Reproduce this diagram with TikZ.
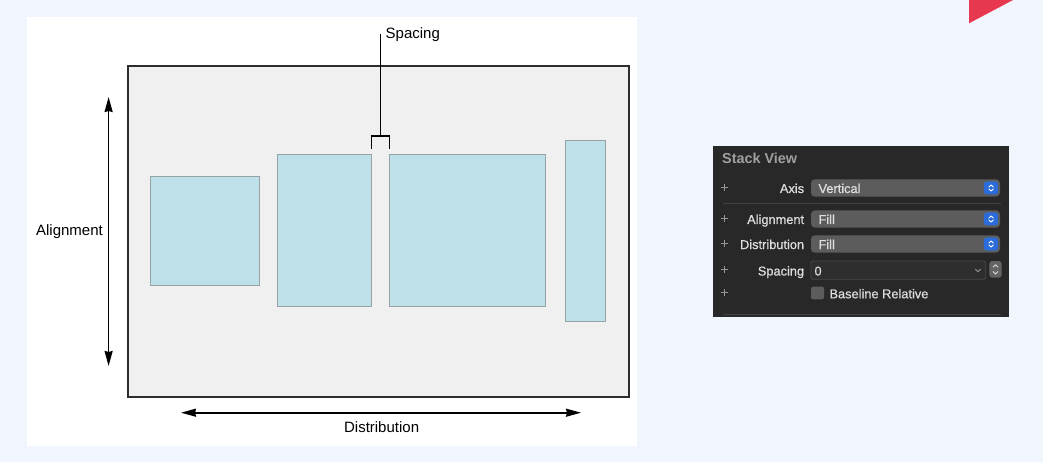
\documentclass[tikz,border=0pt]{standalone}
\usepackage{fontspec}
\setmainfont{Liberation Sans}
\newfontfamily\panelfont[FakeBold=0.6]{Liberation Sans}
\usetikzlibrary{arrows.meta,calc}
\definecolor{pagebg}{RGB}{241,245,253}
\definecolor{boxfill}{RGB}{240,240,240}
\definecolor{boxline}{RGB}{45,45,45}
\definecolor{bluefill}{RGB}{190,224,232}
\definecolor{blueline}{RGB}{150,162,166}
\definecolor{redc}{RGB}{232,56,80}
\definecolor{panelbg}{RGB}{40,40,40}
\definecolor{popgray}{RGB}{92,92,92}
\definecolor{fieldbg}{RGB}{46,46,46}
\definecolor{fieldline}{RGB}{72,72,72}
\definecolor{sepline}{RGB}{66,66,66}
\definecolor{btnblue}{RGB}{44,108,218}
\definecolor{labtext}{RGB}{222,222,222}
\definecolor{titletext}{RGB}{160,160,160}
\definecolor{plusc}{RGB}{150,150,150}
\definecolor{stepgray}{RGB}{100,100,100}
\newcommand\chevpair[2]{%
  \draw[chev] ($(#1.center)+(-2.2,-1)$) -- ++(2.2,-2) -- ++(2.2,2);
  \draw[chev] ($(#1.center)+(-2.2,1)$) -- ++(2.2,2) -- ++(2.2,-2);}
\begin{document}
\begin{tikzpicture}[x=1pt,y=-1pt,
  outerbox/.style={draw=boxline,fill=boxfill,line width=2pt,inner sep=0pt,outer sep=0pt},
  bluebox/.style={draw=blueline,fill=bluefill,line width=1pt,inner sep=0pt,outer sep=0pt},
  lab/.style={font=\fontsize{15}{18}\selectfont,text=black,inner sep=0pt},
  bracketline/.style={draw=black,line width=1.7pt},
  dblarrow/.style={line width=1.7pt,{Stealth[length=15pt,width=8pt,inset=1pt]}-{Stealth[length=15pt,width=8pt,inset=1pt]}},
  panelbox/.style={fill=panelbg,inner sep=0pt,outer sep=0pt},
  popup/.style={fill=popgray,rounded corners=4pt,inner sep=0pt,outer sep=0pt},
  fieldbox/.style={fill=fieldbg,draw=fieldline,line width=0.8pt,rounded corners=1.5pt,inner sep=0pt,outer sep=0pt},
  bluebtn/.style={fill=btnblue,rounded corners=3pt,inner sep=0pt,outer sep=0pt},
  stepbox/.style={fill=stepgray,rounded corners=3pt,inner sep=0pt,outer sep=0pt},
  checkbox/.style={fill=popgray,rounded corners=2pt,inner sep=0pt,outer sep=0pt},
  chev/.style={draw=white,line width=0.9pt,line cap=round,line join=round},
  plab/.style={font=\panelfont\fontsize{12.8}{15}\selectfont,text=labtext,inner sep=0pt},
  ptitle/.style={font=\bfseries\fontsize{14.4}{17}\selectfont,text=titletext,inner sep=0pt},
  plusmark/.style={draw=plusc,line width=0.8pt},
  sep/.style={draw=sepline,line width=1pt}]
\useasboundingbox[fill=pagebg] (0,0) rectangle (1043,462);
% red corner
\fill[redc] (969,0) -- (1013,0) -- (969,23.3) -- cycle;
% white panel
\node[fill=white,inner sep=0pt,outer sep=0pt,minimum width=610,minimum height=429,anchor=north west] (wpanel) at (27,17) {};
% outer box
\node[outerbox,anchor=north west,minimum width=501,minimum height=331] (box) at (128,66) {};
% blue views
\node[bluebox,anchor=north west,minimum width=109,minimum height=109] (r1) at (150,176.5) {};
\node[bluebox,anchor=north west,minimum width=94.4,minimum height=151.7] (r2) at (277,155) {};
\node[bluebox,anchor=north west,minimum width=155.9,minimum height=151.7] (r3) at (389.4,155) {};
\node[bluebox,anchor=north west,minimum width=40,minimum height=181] (r4) at (565,140.3) {};
% spacing bracket
\coordinate (brk) at ($(r2.north east)!0.5!(r3.north west)+(0,-19)$);
\coordinate (sptop) at ($(brk)+(0,-102)$);
\draw[bracketline] ($(r2.north east)+(0,-6)$) |- (brk) -| ($(r3.north west)+(0,-6)$);
\draw[bracketline] (brk) -- (sptop);
\node[lab,anchor=base west] (spl) at (385.5,38.3) {Spacing};
% alignment
\coordinate (alT) at (108.6,97);
\coordinate (alB) at (108.6,366);
\draw[dblarrow] (alT) -- (alB);
\node[lab,anchor=base east] (all) at (103,236) {Alignment};
% distribution
\coordinate (diL) at (181,412.7);
\coordinate (diR) at (581,412.7);
\draw[dblarrow] (diL) -- (diR);
\node[lab,anchor=base] (dil) at (381.6,432) {Distribution};
% ---------- Stack View panel ----------
\node[panelbox,anchor=north west,minimum width=296,minimum height=171.3] (pnl) at (713.3,146) {};
\node[ptitle,anchor=base west] (ttl) at (722,164) {Stack View};
% plus marks
\foreach \yy in {187.7,218.5,243.7,269.3,292.7}{
  \draw[plusmark] (724.3,\yy) +(-3.5,0) -- +(3.5,0) +(0,-3.5) -- +(0,3.5);}
% Axis row
\node[plab,anchor=base east] (axl) at (804.3,193) {Axis};
\node[popup,anchor=north west,minimum width=189,minimum height=17.4] (axp) at (811,179.3) {};
\node[plab,anchor=base west] (axv) at (818.3,193) {Vertical};
\node[bluebtn,anchor=east,minimum width=14.3,minimum height=13] (axb) at ($(axp.east)+(-1.8,0)$) {};
\chevpair{axb}{}
% separator
\draw[sep] (723,203.3) -- (1001,203.3);
% Alignment row
\node[plab,anchor=base east] (all2) at (804.3,224) {Alignment};
\node[popup,anchor=north west,minimum width=189,minimum height=17.4] (alp) at (811,210.3) {};
\node[plab,anchor=base west] (alv) at (818.3,224) {Fill};
\node[bluebtn,anchor=east,minimum width=14.3,minimum height=13] (alb) at ($(alp.east)+(-1.8,0)$) {};
\chevpair{alb}{}
% Distribution row
\node[plab,anchor=base east] (dil2) at (804.3,249) {Distribution};
\node[popup,anchor=north west,minimum width=189,minimum height=17.4] (dip) at (811,235.3) {};
\node[plab,anchor=base west] (div) at (818.3,249) {Fill};
\node[bluebtn,anchor=east,minimum width=14.3,minimum height=13] (dib) at ($(dip.east)+(-1.8,0)$) {};
\chevpair{dib}{}
% Spacing row
\node[plab,anchor=base east] (spl2) at (804.3,275.5) {Spacing};
\node[fieldbox,anchor=north west,minimum width=174.7,minimum height=18.3] (spf) at (811,261) {};
\node[plab,anchor=base west] (spv) at (814.3,275.5) {0};
\coordinate (ddc) at (978,270.5);
\draw[draw=plusc,line width=0.8pt,line cap=round] ($(ddc)+(-2.5,-1.2)$) -- ++(2.5,2.4) -- ++(2.5,-2.4);
\node[stepbox,anchor=north west,minimum width=12.4,minimum height=16.7] (stp) at (989.3,261) {};
\draw[chev,draw=labtext] ($(stp.center)+(-2.4,-2.2)$) -- ++(2.4,-2.4) -- ++(2.4,2.4);
\draw[chev,draw=labtext] ($(stp.center)+(-2.4,2.2)$) -- ++(2.4,2.4) -- ++(2.4,-2.4);
% Baseline Relative row
\node[checkbox,anchor=north west,minimum width=13,minimum height=12.6] (cbx) at (811,286.7) {};
\node[plab,anchor=base west] (cbl) at (829.3,298.3) {Baseline Relative};
% bottom separator
\draw[sep] (723,314) -- (1001,314);
\end{tikzpicture}
\end{document}
